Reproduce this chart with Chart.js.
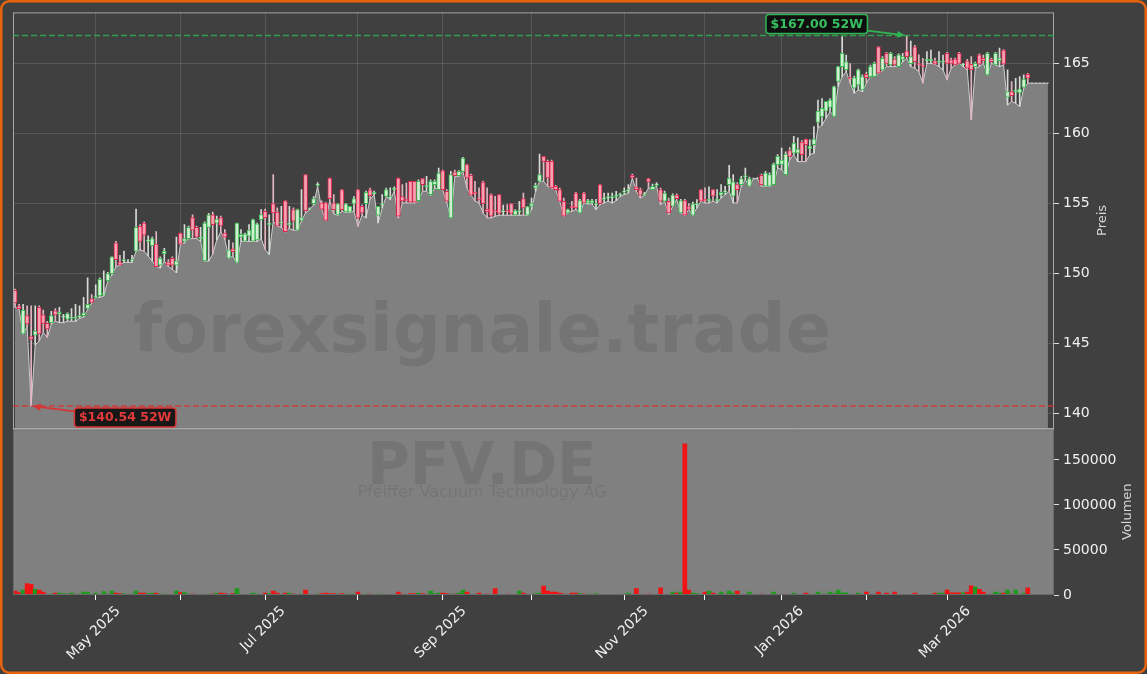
<!DOCTYPE html>
<html><head><meta charset="utf-8">
<script src="https://cdn.jsdelivr.net/npm/chart.js@4.4.1/dist/chart.umd.min.js"></script>
<style>
html,body{margin:0;padding:0;background:#404040;}
canvas{display:block;}
</style></head><body>
<canvas id="c" width="1147" height="674"></canvas>
<script>
// ---- data (PFV.DE daily, ~52 weeks) ----
const open = [
148.8,147.7,145.7,147.0,145.5,145.6,147.6,147.05,146.45,146.5,
147.35,147.1,146.9,146.75,146.8,146.8,146.9,147.0,147.5,148.2,
148.3,148.4,148.5,149.5,150.0,152.2,150.85,150.9,150.9,150.9,
151.6,153.4,153.6,152.3,152.0,152.1,150.6,151.4,150.85,151.1,
150.6,152.9,152.3,152.5,154.0,153.3,152.5,150.9,153.3,154.2,
153.6,154.0,152.9,151.1,151.77,150.8,152.6,152.32,152.67,152.32,
152.4,153.86,154.45,153.5,155.0,154.4,153.6,155.2,153.5,154.57,
153.1,153.8,157.07,154.6,155.0,156.3,155.05,155.05,156.83,155.05,
154.22,156.0,154.41,154.38,154.98,156.0,154.81,155.0,156.0,155.7,
154.17,154.9,155.52,155.4,156.0,156.83,155.5,155.3,156.59,156.59,
155.21,156.78,156.2,155.64,156.35,156.0,157.35,155.88,153.98,157.26,
157.0,157.3,157.78,157.02,155.8,155.4,156.54,154.6,155.64,154.5,
155.64,154.4,
154.5,155.0,154.2,154.4,155.36,154.17,154.8,156.1,
156.59,158.37,158.02,158.02,156.24,156.0,155.17,154.34,154.8,155.76,
154.34,155.76,155.05,155.05,154.9,156.35,155.3,155.4,155.4,155.5,
155.6,155.8,155.9,157.02,156.2,156.0,155.6,
156.78,156.0,156.3,156.0,155.17,155.17,154.81,155.6,154.34,155.22,
154.79,154.17,154.9,156.0,155.3,155.2,156.0,155.2,155.6,155.8,
156.36,155.53,156.36,156.36,156.9,156.24,156.8,156.8,157.02,156.24,
156.24,156.36,157.78,157.8,157.07,158.78,158.61,158.6,159.4,159.6,
158.9,159.2,160.8,161.2,161.6,161.86,161.22,163.72,164.78,
164.55,164.0,163.24,163.48,163.12,164.24,164.07,164.07,166.2,164.55,
165.73,164.9,165.33,164.78,165.3,165.9,165.0,166.2,165.0,164.9,
165.2,165.2,165.19,165.1,165.1,165.73,165.26,165.33,165.73,164.9,
165.19,164.95,164.78,165.62,165.38,164.19,165.33,164.9,165.2,165.97,
162.6,163.0,163.0,162.9,163.3,164.24,
163.6,163.6,163.6,163.6,163.6
];
const high = [
148.9,147.8,147.8,147.7,147.7,147.7,147.7,147.4,146.6,147.3,
147.5,147.6,147.1,147.2,147.5,147.8,147.7,148.3,149.7,148.5,
149.2,149.7,150.2,150.1,151.2,152.3,151.3,151.6,151.0,151.3,
154.6,153.5,153.7,152.7,152.6,153.0,151.2,151.8,151.0,151.2,
152.6,152.9,153.5,153.4,154.2,153.4,153.3,153.7,154.3,154.4,
154.1,154.1,153.15,152.4,152.2,153.6,153.15,152.9,153.5,153.9,
153.6,154.57,154.6,154.2,157.07,154.7,154.81,155.2,154.81,154.7,
154.6,156.0,157.07,154.7,155.5,156.5,155.2,155.1,156.83,155.64,
155.0,156.0,155.0,154.8,155.5,156.0,154.9,155.9,156.1,155.9,
154.81,155.64,156.1,156.12,156.2,156.83,156.35,156.47,156.59,156.59,
156.7,156.8,156.95,156.7,156.7,157.54,157.4,156.0,157.3,157.4,
157.35,158.3,157.8,157.1,156.59,156.12,156.6,156.12,155.7,155.52,
155.64,154.9,
154.93,155.0,154.57,155.17,155.76,154.8,155.4,156.47,
158.54,158.37,158.1,158.1,156.3,156.1,155.4,154.6,155.17,155.8,
155.3,155.8,155.3,155.3,155.3,156.35,155.76,155.76,155.76,155.88,
155.76,156.12,156.35,157.1,156.83,156.1,155.8,
156.8,156.4,156.5,156.1,155.9,155.4,155.7,155.7,155.3,155.3,
155.0,155.1,155.29,156.0,156.12,156.19,156.0,156.0,156.36,156.24,
157.73,157.07,156.5,156.95,157.54,156.9,156.83,156.85,157.1,157.3,
157.2,157.9,158.5,158.97,158.7,159.0,159.8,159.7,159.5,159.6,
159.56,160.5,162.4,162.5,162.3,162.5,163.4,164.8,166.92,
165.6,165.0,164.1,164.6,164.2,164.4,164.9,165.1,166.2,165.5,
165.8,165.8,165.5,165.7,165.73,167.0,166.6,166.3,165.62,165.38,
165.85,165.97,165.4,165.85,165.6,165.8,165.4,165.4,165.8,165.02,
165.3,165.5,165.1,165.7,165.6,165.8,165.4,165.8,166.1,166.0,
164.55,163.72,163.95,164.07,164.19,164.3,
163.6,163.6,163.6,163.6,163.6
];
const low = [
147.6,147.46,145.7,146.2,140.54,144.9,145.2,145.8,145.45,146.4,
146.6,146.5,146.5,146.6,146.6,146.6,146.8,146.9,147.45,147.9,
148.3,148.3,148.4,149.5,149.9,150.5,150.6,150.8,150.8,150.8,
151.6,151.7,151.6,151.26,150.9,150.5,150.4,150.9,150.5,150.3,
150.07,152.1,152.2,152.5,152.5,152.5,152.3,150.9,150.9,151.4,
152.4,153.0,152.44,151.1,151.25,150.77,152.32,152.3,152.3,152.3,
152.3,152.5,151.72,151.37,153.74,153.39,153.31,152.98,153.22,153.1,
153.1,153.74,154.34,154.57,154.9,156.24,154.6,153.79,155.21,154.26,
154.17,154.45,154.38,154.38,154.45,153.39,154.17,153.98,155.29,155.64,
153.62,154.69,155.5,155.29,155.9,153.98,155.05,155.05,155.05,155.05,
155.21,155.88,155.88,155.6,156.12,156.0,156.0,155.05,153.98,156.95,
156.95,157.3,156.12,155.6,155.2,155.05,154.34,153.98,153.98,154.1,
154.17,154.17,
154.17,154.17,154.17,154.17,154.17,154.17,154.57,155.88,
156.59,156.59,156.24,156.12,156.0,155.17,154.1,154.34,154.45,154.57,
154.34,155.05,154.98,154.98,154.57,154.93,155.05,155.17,155.05,155.21,
155.52,155.64,155.76,156.83,155.88,155.4,155.6,
156.12,156.0,156.24,154.93,155.17,154.22,154.81,155.29,154.34,154.17,
154.58,154.17,154.69,155.17,155.05,155.05,155.17,155.05,155.41,155.64,
155.88,155.05,155.05,156.24,156.71,156.24,156.78,156.78,156.24,156.24,
156.24,156.36,157.54,157.43,157.07,158.14,158.49,158.0,158.0,158.0,
158.5,158.6,160.4,160.6,161.1,161.58,161.22,163.36,164.07,
164.43,163.6,162.89,163.12,163.0,163.6,164.07,164.07,164.3,164.5,
164.78,164.78,164.78,164.78,165.14,165.38,164.78,164.67,164.43,163.6,
165.02,165.02,164.95,164.78,164.55,163.84,164.67,164.9,165.02,164.78,
164.55,160.99,164.67,164.78,165.02,164.19,165.02,164.9,164.78,164.9,
162.05,162.3,162.17,161.94,163.24,163.6,
163.6,163.6,163.6,163.6,163.6
];
const close = [
147.9,147.5,147.4,146.4,145.3,145.9,145.7,146.45,146.05,147.0,
147.05,147.25,146.95,147.15,146.9,146.9,147.0,147.2,147.8,147.95,
148.4,149.6,148.6,150.0,151.2,151.0,150.6,151.0,150.9,151.0,
153.3,152.3,152.75,152.4,152.5,150.5,151.1,151.6,150.6,150.6,
150.9,152.1,152.5,153.3,153.1,152.6,152.6,153.6,154.2,153.5,
153.9,153.4,152.6,151.7,151.56,153.6,152.8,152.84,153.1,153.86,
153.55,154.22,154.0,153.6,154.34,153.39,153.7,153.0,153.6,153.74,
154.57,154.0,154.5,154.65,155.36,156.4,154.6,153.8,155.36,154.57,
154.98,154.57,154.98,154.81,155.36,153.98,154.34,155.81,155.57,155.8,
154.81,155.0,156.0,155.5,156.1,154.1,155.2,155.2,155.1,155.1,
156.59,156.35,156.3,156.59,156.59,157.18,156.0,155.17,157.07,157.0,
157.3,158.25,156.83,155.6,155.7,155.3,155.0,154.4,154.1,154.4,
154.3,154.5,
154.4,154.3,154.5,154.5,154.69,154.79,155.0,156.3,
157.07,158.02,156.83,156.12,156.0,155.17,154.1,154.57,154.7,154.69,
155.21,155.05,155.21,155.21,155.0,155.0,155.4,155.5,155.5,155.6,
155.7,155.9,156.0,156.83,156.0,155.6,155.7,
156.55,156.24,156.4,155.17,155.76,154.34,155.6,155.36,155.22,154.17,
154.58,154.98,155.0,155.17,155.2,155.3,155.53,155.3,155.8,155.9,
156.83,156.55,156.0,156.78,157.0,156.78,156.8,156.8,156.36,157.19,
157.07,157.83,158.37,158.1,158.54,158.37,159.32,158.9,158.5,159.2,
159.1,159.6,161.6,161.8,162.3,162.41,163.36,164.78,165.73,
165.14,163.9,164.0,164.55,164.07,164.0,164.78,165.02,164.31,165.38,
165.02,165.73,164.9,165.62,165.5,165.5,165.5,165.14,164.9,164.8,
165.3,165.3,164.95,165.2,165.2,165.02,165.02,164.9,165.02,164.95,
164.67,164.55,165.02,164.95,165.19,165.73,165.14,165.73,165.4,164.95,
163.0,162.7,163.1,163.2,163.9,163.95,
163.6,163.6,163.6,163.6,163.6
];
const volume = [
4400,2600,5500,12600,11800,6300,5500,3300,800,1100,
2200,2200,1500,1000,2000,1000,1000,3300,3300,800,
2200,500,3700,1000,4400,2000,1500,1500,500,1000,
4400,2200,2200,1500,2200,2200,1000,1000,800,300,
4400,2600,2600,1000,1000,800,300,800,1000,1000,
2200,2200,1500,300,1500,7000,300,300,1000,2000,
1000,800,2000,1500,4400,2200,500,2200,2200,1000,
800,1000,5500,300,800,1000,1500,2200,1500,1500,
1000,1500,1000,1000,1000,3300,300,1000,1000,800,
1000,1000,300,300,300,3300,1000,300,1500,1500,
2000,1500,300,4400,1500,2000,2000,1500,1000,1000,
2000,5500,3300,500,500,2200,500,1000,500,7000,
300,300,
1000,800,300,4400,2200,500,500,1500,
2200,10000,4400,3300,3300,2200,1000,500,2200,2200,
1500,1000,1000,500,1500,300,300,500,500,300,
500,1000,2200,300,7000,500,300,
1000,300,500,8100,500,500,3300,2200,3300,168000,
5500,2200,1500,500,3300,4400,2200,500,3300,1000,
4400,2200,4400,500,500,3300,300,300,1000,500,
500,3300,500,800,500,500,2200,300,500,2200,
500,800,3300,1000,1000,3300,1500,5500,2500,
2500,800,500,2200,500,3300,500,500,3300,500,
2200,500,3300,500,500,800,500,2200,500,800,
500,500,2200,2200,2200,5500,2500,2500,2500,2500,
3300,10300,8900,6300,3300,500,500,3300,2200,2200,
5500,1000,5500,500,2200,8100,
0,0,0,0,0
];
const slotCount = 258;                       // x categories (trading days + one spare slot)
const monthTickIndex = [20,41,62,85,106,128,151,171,190,211,231];
const monthTickLabel = ['May 2025','','Jul 2025','','Sep 2025','','Nov 2025','','Jan 2026','','Mar 2026'];
const priceTicks = [140,145,150,155,160,165];
const volumeTicks = [0,50000,100000,150000];
const ticker = 'PFV.DE';
const company = 'Pfeiffer Vacuum Technology AG';
const watermark = 'forexsignale.trade';

// ---- chart ----
Chart.defaults.font.family = "'DejaVu Sans', sans-serif";
const labels = Array.from({length: slotCount}, (_, i) => String(i));
const isUp = i => close[i] >= open[i];

const hiVal = Math.max(...high), hiIdx = high.indexOf(hiVal);
const loVal = Math.min(...low), loIdx = low.indexOf(loVal);

function arrowBox(ctx, tx, ty, cx, cy, text, col, txtCol) {
  ctx.save();
  ctx.font = "bold 12.5px 'DejaVu Sans'";
  const w = ctx.measureText(text).width + 9, h = 19;
  const dx = tx - cx, dy = ty - cy;
  const t = Math.min(Math.abs((w / 2) / dx), Math.abs((h / 2) / dy));
  const sx = cx + dx * t, sy = cy + dy * t;
  const ang = Math.atan2(dy, dx);
  const ex = tx - Math.cos(ang) * 1.5, ey = ty - Math.sin(ang) * 1.5;
  ctx.strokeStyle = col; ctx.fillStyle = col; ctx.lineWidth = 1.8;
  ctx.beginPath(); ctx.moveTo(sx, sy);
  ctx.lineTo(ex - Math.cos(ang) * 6, ey - Math.sin(ang) * 6); ctx.stroke();
  ctx.beginPath();
  ctx.moveTo(ex, ey);
  ctx.lineTo(ex - 8 * Math.cos(ang) + 3.5 * Math.sin(ang), ey - 8 * Math.sin(ang) - 3.5 * Math.cos(ang));
  ctx.lineTo(ex - 8 * Math.cos(ang) - 3.5 * Math.sin(ang), ey - 8 * Math.sin(ang) + 3.5 * Math.cos(ang));
  ctx.closePath(); ctx.fill();
  ctx.beginPath();
  ctx.roundRect(cx - w / 2, cy - h / 2, w, h, 3);
  ctx.fillStyle = 'rgba(8,8,8,0.88)'; ctx.fill();
  ctx.lineWidth = 1.5; ctx.strokeStyle = col; ctx.stroke();
  ctx.fillStyle = txtCol; ctx.textAlign = 'center'; ctx.textBaseline = 'middle';
  ctx.fillText(text, cx, cy + 0.5);
  ctx.restore();
}

const panels = {
  id: 'panels',
  beforeDraw(chart) {
    const c = chart.ctx;
    c.save(); c.fillStyle = '#404040'; c.fillRect(0, 0, chart.width, chart.height); c.restore();
  },
  beforeDatasetsDraw(chart) {
    const {ctx, chartArea: a, scales} = chart;
    const v = scales.yv;
    ctx.save(); ctx.fillStyle = '#808080';
    ctx.fillRect(a.left, v.top, a.right - a.left, v.bottom - v.top);
    ctx.restore();
  },
  afterDatasetsDraw(chart) {
    const {ctx, chartArea: a, scales} = chart;
    const y = scales.y, x = scales.x, v = scales.yv;
    ctx.save();
    // watermarks
    ctx.textAlign = 'center'; ctx.textBaseline = 'alphabetic';
    ctx.fillStyle = 'rgba(0,0,0,0.09)';
    ctx.font = "bold 67px 'DejaVu Sans'";
    ctx.fillText(watermark, 482, 352);
    ctx.fillStyle = 'rgba(0,0,0,0.09)';
    ctx.font = "bold 58px 'DejaVu Sans'";
    ctx.fillText(ticker, 482, 484);
    ctx.font = "16px 'DejaVu Sans'";
    ctx.fillText(company, 482, 497);
    // panel borders
    ctx.strokeStyle = '#a6a6a6'; ctx.lineWidth = 1;
    ctx.strokeRect(a.left + 0.5, y.top + 0.5, a.right - a.left - 1, y.bottom - y.top);
    ctx.strokeStyle = '#6a6a6a';
    ctx.strokeRect(a.left + 0.5, v.top + 1.5, a.right - a.left - 1, v.bottom - v.top - 2);
    ctx.strokeStyle = '#b4b4b4';
    ctx.beginPath(); ctx.moveTo(a.left, y.bottom + 0.5); ctx.lineTo(a.right, y.bottom + 0.5); ctx.stroke();
    // 52W lines
    ctx.setLineDash([6, 3]); ctx.lineWidth = 1.5;
    ctx.strokeStyle = 'rgba(46,178,82,0.85)';
    const yh = y.getPixelForValue(hiVal);
    ctx.beginPath(); ctx.moveTo(a.left, yh); ctx.lineTo(a.right, yh); ctx.stroke();
    ctx.strokeStyle = 'rgba(214,52,52,0.85)';
    const yl = y.getPixelForValue(loVal);
    ctx.beginPath(); ctx.moveTo(a.left, yl); ctx.lineTo(a.right, yl); ctx.stroke();
    ctx.setLineDash([]);
    ctx.restore();
    const hx = x.getPixelForValue(hiIdx), lx = x.getPixelForValue(loIdx);
    arrowBox(ctx, hx, yh, hx - 90, yh - 11.5, '$' + hiVal.toFixed(2) + ' 52W', '#2fb552', '#36c060');
    arrowBox(ctx, lx, yl, lx + 94, yl + 11.4, '$' + loVal.toFixed(2) + ' 52W', '#d93535', '#e23a3a');
  },
  afterDraw(chart) {
    const {ctx, chartArea: a, scales} = chart;
    const x = scales.x, y = scales.y, v = scales.yv;
    ctx.save();
    // x labels (rotated, bbox centred on tick)
    ctx.font = "14px 'DejaVu Sans'"; ctx.fillStyle = '#f0f0f0';
    ctx.textAlign = 'center'; ctx.textBaseline = 'middle';
    monthTickIndex.forEach((idx, k) => {
      const t = monthTickLabel[k];
      if (!t) return;
      const px = x.getPixelForValue(idx);
      const W = ctx.measureText(t).width, h = 14;
      const ext = (W + h) / Math.SQRT2;
      ctx.save(); ctx.translate(px - 2, a.bottom + 9 + ext / 2); ctx.rotate(-Math.PI / 4);
      ctx.fillText(t, 0, 0); ctx.restore();
    });
    // axis titles
    ctx.fillStyle = '#d6d6d6'; ctx.font = "13px 'DejaVu Sans'";
    ctx.save(); ctx.translate(1103, (y.top + y.bottom) / 2); ctx.rotate(-Math.PI / 2);
    ctx.fillText('Preis', 0, 0); ctx.restore();
    ctx.save(); ctx.translate(1128, (v.top + v.bottom) / 2); ctx.rotate(-Math.PI / 2);
    ctx.fillText('Volumen', 0, 0); ctx.restore();
    // outer orange frame
    ctx.strokeStyle = '#e8640c'; ctx.lineWidth = 2.5;
    ctx.beginPath(); ctx.roundRect(1.25, 1.25, chart.width - 2.5, chart.height - 2.5, 8); ctx.stroke();
    ctx.restore();
  }
};

new Chart(document.getElementById('c'), {
  type: 'bar',
  data: {
    labels,
    datasets: [
      { type: 'line', label: 'Tief', yAxisID: 'y', data: low,
        borderColor: '#cfcfcf', borderWidth: 1, pointRadius: 0, tension: 0,
        fill: 'start', backgroundColor: '#808080', order: 10 },
      { type: 'bar', label: 'Volumen', yAxisID: 'yv', data: volume,
        backgroundColor: c => isUp(c.dataIndex) ? '#1e9b1e' : '#f01414',
        barPercentage: 1, categoryPercentage: 1, grouped: false, order: 3 },
      { type: 'bar', label: 'Docht', yAxisID: 'y', data: low.map((l, i) => [l, high[i]]),
        backgroundColor: c => isUp(c.dataIndex) ? '#d6dbd6' : '#e2b6c1',
        barThickness: 1, grouped: false, order: 2 },
      { type: 'bar', label: 'Kerze', yAxisID: 'y', data: open.map((o, i) => [o, close[i]]),
        backgroundColor: c => isUp(c.dataIndex) ? '#d4eed6' : '#f5a3b3',
        borderColor: c => isUp(c.dataIndex) ? '#34b84c' : '#e0264f',
        borderWidth: 1, borderSkipped: false, barThickness: 4, grouped: false, order: 1 }
    ]
  },
  options: {
    responsive: false, animation: false, devicePixelRatio: 1,
    layout: { padding: { left: 13, top: 11, right: 0, bottom: 0 } },
    plugins: { legend: { display: false }, tooltip: { enabled: false } },
    scales: {
      x: {
        type: 'category', offset: true,
        grid: { offset: false, color: 'rgba(255,255,255,0.13)', tickLength: 5, tickColor: '#ffffff' },
        border: { display: false },
        ticks: { autoSkip: false, maxRotation: 0, minRotation: 0, callback: () => '' },
        afterBuildTicks: s => { s.ticks = monthTickIndex.map(v => ({ value: v })); },
        afterFit: s => { s.height = 79; }
      },
      y: {
        type: 'linear', position: 'right', stack: 'panels', stackWeight: 417,
        min: 138.945, max: 168.655,
        afterBuildTicks: s => { s.ticks = priceTicks.map(v => ({ value: v })); },
        ticks: { color: '#f0f0f0', font: { size: 14 }, padding: 4, callback: v => String(v) },
        grid: { color: 'rgba(255,255,255,0.13)', tickLength: 5, tickColor: '#dddddd' },
        border: { display: false },
        afterFit: s => { s.width = 93; }
      },
      yv: {
        type: 'linear', position: 'right', stack: 'panels', stackWeight: 167,
        min: 0, max: 185000,
        afterBuildTicks: s => { s.ticks = volumeTicks.map(v => ({ value: v })); },
        ticks: { color: '#f0f0f0', font: { size: 14 }, padding: 4, callback: v => String(v) },
        grid: { drawOnChartArea: false, tickLength: 5, tickColor: '#dddddd' },
        border: { display: false },
        afterFit: s => { s.width = 93; }
      }
    }
  },
  plugins: [panels]
});
</script>
</body></html>
